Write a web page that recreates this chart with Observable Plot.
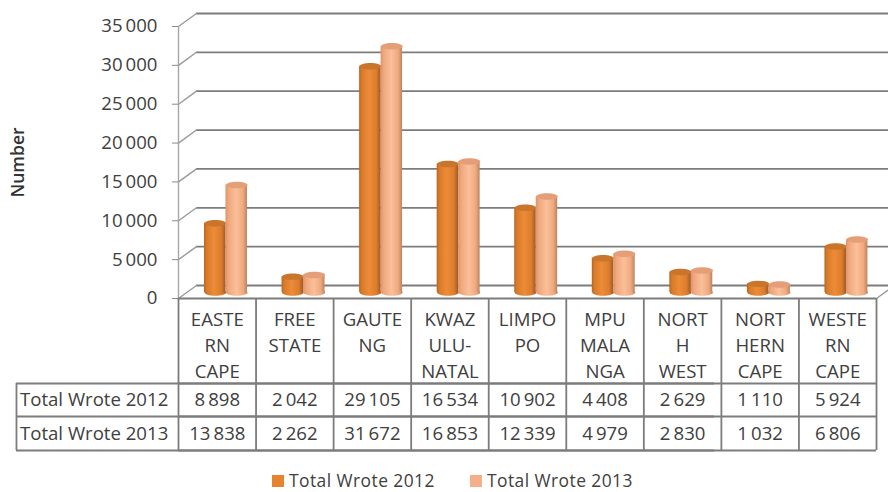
<!DOCTYPE html>
<html>
<head>
<meta charset="utf-8">
<script src="https://cdn.jsdelivr.net/npm/d3@7"></script>
<script src="https://cdn.jsdelivr.net/npm/@observablehq/plot@0.6"></script>
<style>
html,body{margin:0;padding:0;background:#fff;overflow:hidden}
svg{display:block}
#legend{position:absolute;left:0;top:468px;width:888px;height:24px;font:17.4px/24px "Open Sans",sans-serif;letter-spacing:.45px;color:#404040}
#legend span{position:absolute;top:0;white-space:nowrap}
#legend i{position:absolute;top:7px;width:12px;height:12px}
</style>
</head>
<body>
<div id="chart"></div>
<div id="legend">
  <i style="left:272px;background:#E5832F"></i><span style="left:289px">Total Wrote 2012</span>
  <i style="left:470px;background:#F4AE88"></i><span style="left:487px">Total Wrote 2013</span>
</div>
<script>
const provinces = ["EASTE\nRN\nCAPE","FREE\nSTATE","GAUTE\nNG","KWAZ\nULU-\nNATAL","LIMPO\nPO","MPU\nMALA\nNGA","NORT\nH\nWEST","NORT\nHERN\nCAPE","WESTE\nRN\nCAPE"];
const wrote2012 = [8898,2042,29105,16534,10902,4408,2629,1110,5924];
const wrote2013 = [13838,2262,31672,16853,12339,4979,2830,1032,6806];
const yTicks = [0,5000,10000,15000,20000,25000,30000,35000];
const rowLabels = ["Total Wrote 2012","Total Wrote 2013"];

const fmt = d3.formatLocale({decimal:".",thousands:"\u2009",grouping:[3],currency:["",""]}).format(",");
const rows = i => provinces.map((p,k)=>({p, v:(i?wrote2013:wrote2012)[k]}));
const r12 = rows(0), r13 = rows(1);

const line = "#7c7c7c", ink = "#404040";
const halfCol = 38.78;                 // half a table column, px
const px = p => (298 - p) * 35000 / 272; // y-value at a pixel row below the axis

const ellipse = {draw(c, size){
  const a = Math.sqrt(size/Math.PI), b = a*0.3, ka = a*0.5523, kb = b*0.5523;
  c.moveTo(-a,0);
  c.bezierCurveTo(-a,-kb,-ka,-b,0,-b);
  c.bezierCurveTo(ka,-b,a,-kb,a,0);
  c.bezierCurveTo(a,kb,ka,b,0,b);
  c.bezierCurveTo(-ka,b,-a,kb,-a,0);
  c.closePath();
}};
const edge = {draw(c,l){c.moveTo(0,0);c.lineTo(0,-l);}};

const defs = () => {
  const g = document.createElementNS("http://www.w3.org/2000/svg","defs");
  const stops = a => a.map(([o,c])=>`<stop offset="${o}" stop-color="${c}"/>`).join("");
  g.innerHTML =
   `<linearGradient id="g12">${stops([[0,"#B8651F"],[.12,"#D97A2A"],[.45,"#EC8C38"],[.8,"#DD7C2B"],[1,"#9C5A2A"]])}</linearGradient>
    <linearGradient id="g13">${stops([[0,"#DE9468"],[.15,"#F0A87E"],[.5,"#FAC09A"],[.82,"#F0A87E"],[1,"#B98560"]])}</linearGradient>`;
  return g;
};

const bars = (data, grad, top, insL, insR, cx) => [
  Plot.dot(data,{x:"p", y:()=>0, dx:cx, dy:-6, r:10.8, symbol:ellipse, fill:grad}),
  Plot.barY(data,{x:"p", y:"v", dy:-6, insetLeft:insL, insetRight:insR, fill:grad}),
  Plot.dot(data,{x:"p", y:"v", dx:cx, dy:-6, r:10.8, symbol:ellipse, fill:top})
];

const chart = Plot.plot({
  width:888, height:468, marginTop:26, marginBottom:170, marginLeft:178, marginRight:12,
  style:{fontFamily:"'Open Sans', sans-serif", fontSize:"18.6px", color:ink, background:"#fff"},
  x:{domain:provinces, padding:0, round:false, axis:null},
  y:{domain:[0,35000]},
  marks:[
    defs,
    // back wall
    Plot.ruleY(yTicks,{dx:18, dy:-13, stroke:line, strokeWidth:1.8}),
    Plot.vector(yTicks,{x:()=>provinces[0], y:d=>d, dx:-halfCol, length:22.2, rotate:54, anchor:"start", shape:edge, stroke:"#9a9a9a", strokeWidth:1.4}),
    Plot.vector([0],{x:()=>provinces[8], y:d=>d, dx:halfCol, length:22.2, rotate:54, anchor:"start", shape:edge, stroke:"#9a9a9a", strokeWidth:1.4}),
    Plot.ruleX([provinces[0]],{dx:-halfCol, y1:0, y2:35000, stroke:"#a6a6a6", strokeWidth:1.4}),
    // axis
    Plot.axisY({ticks:yTicks, tickFormat:fmt, tickSize:6, tickPadding:15, color:ink, stroke:"#8a8a8a", label:null, fontSize:18.6}),
    Plot.text(["Number"],{frameAnchor:"left", dx:-160, rotate:-90, textAnchor:"middle", text:d=>d, fontWeight:600, fontSize:17.5, fill:"#333"}),
    // bars
    ...bars(r12,"url(#g12)","#C9752C",26,30,-2),
    ...bars(r13,"url(#g13)","#E59F78",47.5,8.6,19.5),
    // table grid
    Plot.ruleX(provinces,{dx:-halfCol, y1:px(298), y2:px(450), stroke:line, strokeWidth:1.8}),
    Plot.ruleX([provinces[8]],{dx:halfCol, y1:px(298), y2:px(450), stroke:line, strokeWidth:1.8}),
    Plot.ruleX([provinces[0]],{dx:-200.8, y1:px(383), y2:px(450), stroke:line, strokeWidth:1.8}),
    Plot.ruleY([px(298),px(383),px(416),px(450)],{stroke:line, strokeWidth:1.8}),
    Plot.ruleY([px(383),px(416),px(450)],{dx:-162, stroke:line, strokeWidth:1.8}),
    // table text
    Plot.text(provinces,{x:d=>d, y:()=>0, dy:9, text:d=>d, lineAnchor:"top", lineHeight:1.4, fill:ink}),
    Plot.text(r12,{x:"p", y:()=>0, dy:101.5, text:d=>fmt(d.v), fill:ink}),
    Plot.text(r13,{x:"p", y:()=>0, dy:135.5, text:d=>fmt(d.v), fill:ink}),
    Plot.text([rowLabels[0]],{x:()=>provinces[0], y:()=>0, dx:-197.3, dy:101.5, text:d=>d, textAnchor:"start", fill:ink}),
    Plot.text([rowLabels[1]],{x:()=>provinces[0], y:()=>0, dx:-197.3, dy:135.5, text:d=>d, textAnchor:"start", fill:ink})
  ]
});
document.getElementById("chart").append(chart);
</script>
</body>
</html>
